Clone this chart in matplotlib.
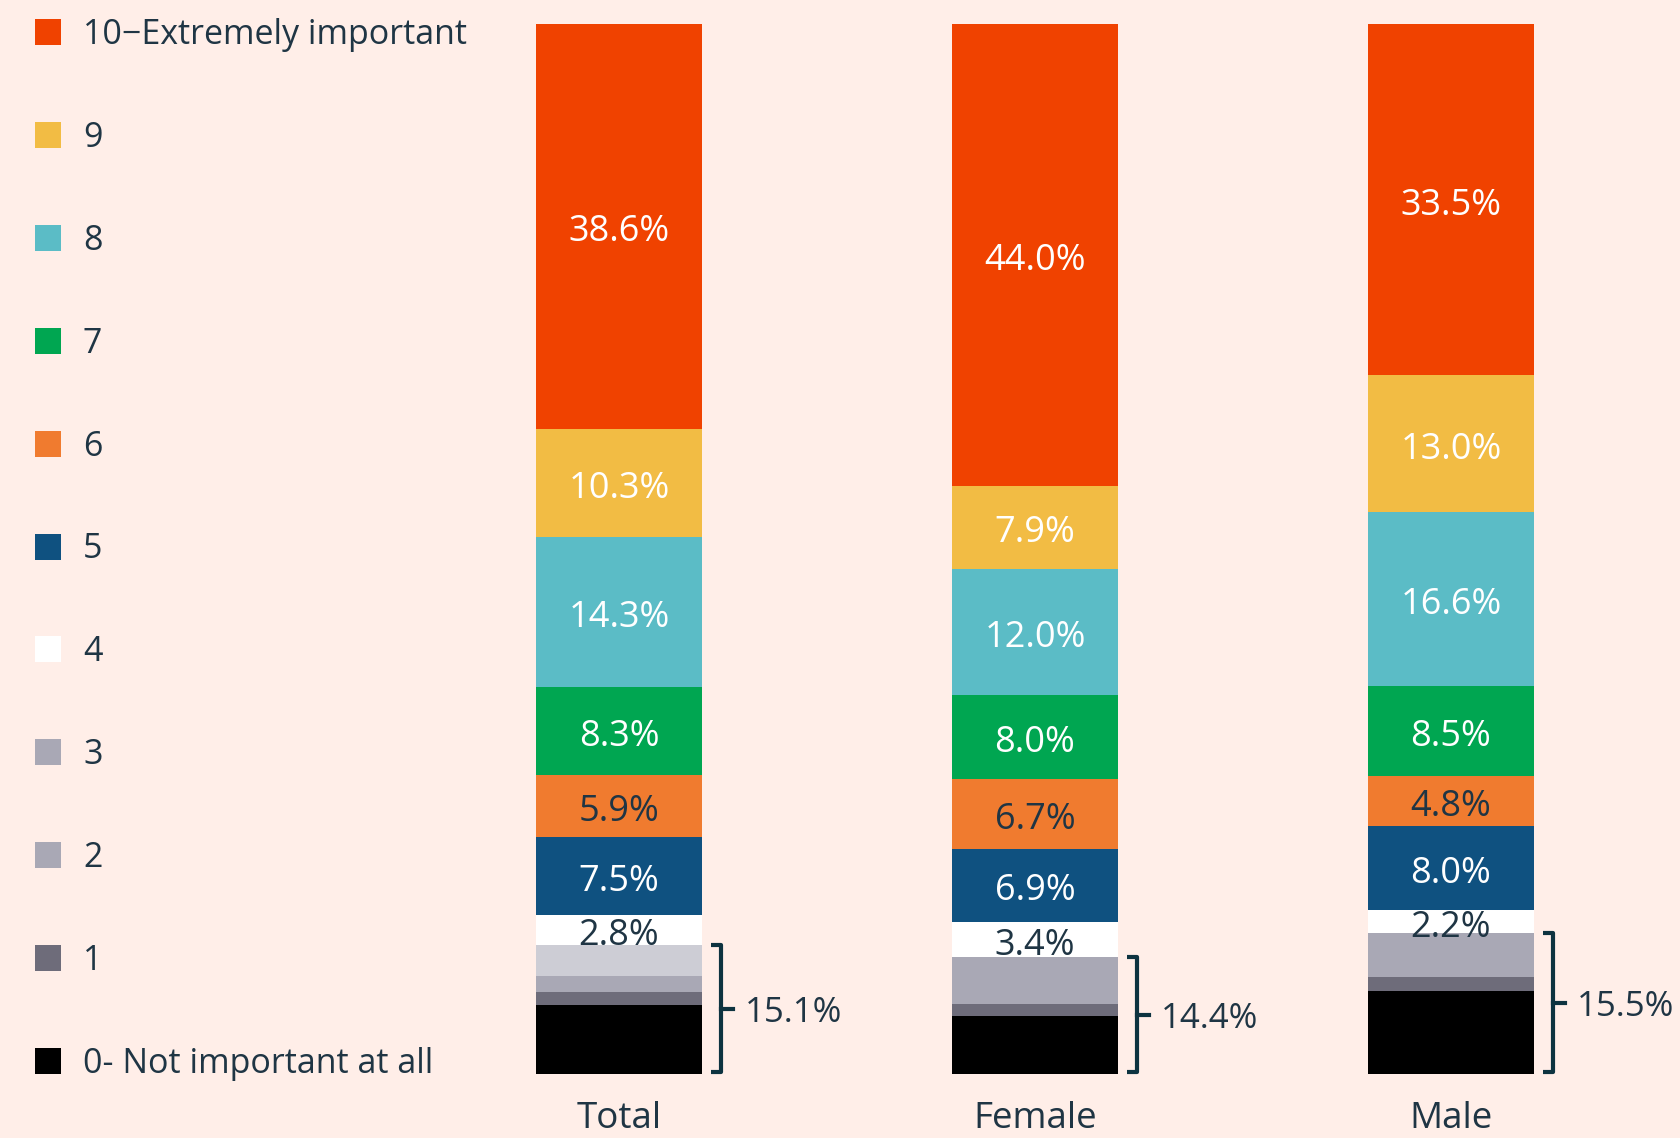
import matplotlib
matplotlib.use("Agg")
import matplotlib.pyplot as plt
from matplotlib.patches import Rectangle
import numpy as np

plt.rcParams['font.family'] = ['Open Sans', 'DejaVu Sans']

# ---- data ----
groups = ["Total", "Female", "Male"]
levels = ["0- Not important at all", "1", "2", "3", "4", "5", "6", "7", "8", "9", "10\u2212Extremely important"]
s0 = [6.6, 5.5, 7.9]
s1 = [1.2, 1.2, 1.3]
s2 = [1.5, 1.9, 0.8]
s3 = [3.0, 2.5, 3.4]
s4 = [2.8, 3.4, 2.2]
s5 = [7.5, 6.9, 8.0]
s6 = [5.9, 6.7, 4.8]
s7 = [8.3, 8.0, 8.5]
s8 = [14.3, 12.0, 16.6]
s9 = [10.3, 7.9, 13.0]
s10 = [38.6, 44.0, 33.5]
bracket_labels = ["15.1%", "14.4%", "15.5%"]

series = [s0, s1, s2, s3, s4, s5, s6, s7, s8, s9, s10]
colors = ["#000000", "#6e6c7a", "#a9a8b5", "#a9a8b5", "#ffffff", "#0f5180",
          "#f07b2f", "#00a651", "#5bbcc6", "#f2bc44", "#f04200"]
label_colors = [None, None, None, None, "#1f3544", "white", "#1f3544",
                "white", "white", "white", "white"]

BG = "#ffeee8"
TXT = "#1f3544"
BR = "#0d3340"

W, H = 1681, 1138
fig = plt.figure(figsize=(W / 100, H / 100), dpi=100, facecolor=BG)
ax = fig.add_axes([0, 0, 1, 1])
ax.set_facecolor(BG)

px_x = 416.0
cx0 = 619.0
ax.set_xlim(-cx0 / px_x, (W - cx0) / px_x)
ybot_px, ytop_px = 1074.0, 23.6
px_y = (ybot_px - ytop_px) / 100.0
ax.set_ylim(-(H - ybot_px) / px_y, 100 + ytop_px / px_y)
ax.axis("off")

FS = 26
x = np.arange(len(groups))
bw = 166 / px_x
bottom = np.zeros(len(groups))
for i, (vals, c) in enumerate(zip(series, colors)):
    vals = np.array(vals)
    cols = [c] * len(groups)
    if i == 3:
        cols[0] = "#cdcdd5"
    ax.bar(x, vals, bw, bottom=bottom, color=cols, linewidth=0, zorder=2)
    if label_colors[i] is not None:
        for j in range(len(groups)):
            ax.annotate(f"{vals[j]:.1f}%", (x[j], bottom[j] + vals[j] / 2),
                        xytext=(0, -15), textcoords="offset pixels",
                        ha="center", va="baseline", fontsize=FS,
                        color=label_colors[i], zorder=3)
    bottom = bottom + vals

# brackets covering levels 0-3
low = np.array(s0) + np.array(s1) + np.array(s2) + np.array(s3)
for j in range(len(groups)):
    right = x[j] + bw / 2
    xv = right + 19 / px_x
    xh = right + 9 / px_x
    yt = low[j]
    yb = 0.15
    ax.plot([xh, xv, xv, xh], [yt, yt, yb, yb], color=BR, lw=3,
            solid_joinstyle="round", solid_capstyle="butt", zorder=3)
    ym = (yt + yb) / 2
    ax.plot([xv, xv + 12 / px_x], [ym, ym], color=BR, lw=3, zorder=3)
    ax.annotate(bracket_labels[j], (xv + 24 / px_x, ym), xytext=(0, -13),
                textcoords="offset pixels", ha="left", va="baseline",
                fontsize=25, color=TXT)

# category labels
for j, g in enumerate(groups):
    ax.text(x[j], -(1128 - ybot_px) / px_y, g, ha="center", va="baseline",
            fontsize=26.5, color=TXT)

# legend (top = 10, bottom = 0)
for k in range(len(levels)):
    lvl = len(levels) - 1 - k
    yc = 32 + 102.9 * k
    fig.patches.append(Rectangle((35 / W, 1 - (yc + 13) / H), 26 / W, 26 / H,
                                 transform=fig.transFigure, facecolor=colors[lvl],
                                 edgecolor="none"))
    fig.text(83 / W, 1 - (yc + 12) / H, levels[lvl], ha="left", va="baseline",
             fontsize=24.5, color=TXT)

fig.savefig("out.png", dpi=100, facecolor=BG)
